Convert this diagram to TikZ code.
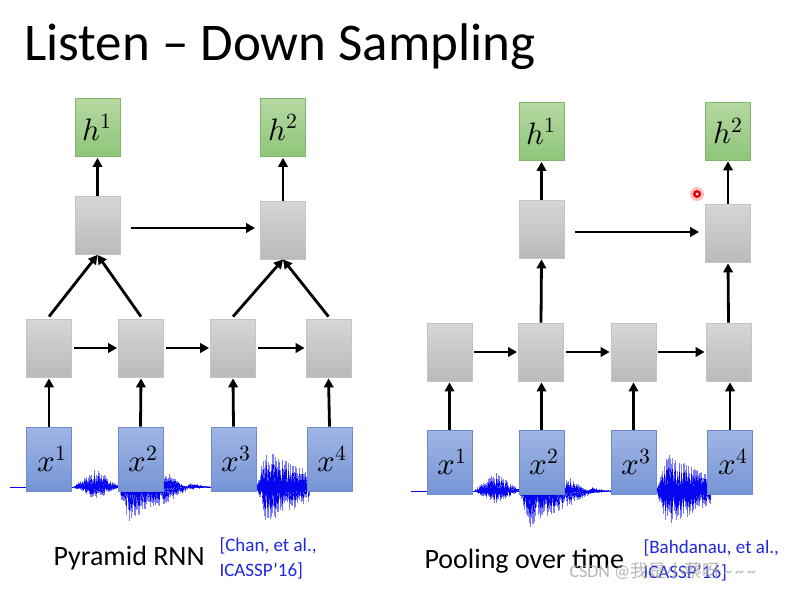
\documentclass[tikz,border=0pt]{standalone}
\usepackage{fontspec}
\usepackage{unicode-math}
\setmainfont{Carlito}
\setmathfont{Latin Modern Math}
\newfontfamily\cjkfont{Noto Sans CJK SC}
\usetikzlibrary{arrows.meta,calc}
\definecolor{xtop}{RGB}{160,182,228}
\definecolor{xbot}{RGB}{118,148,214}
\definecolor{xbor}{RGB}{110,140,205}
\definecolor{gtop}{RGB}{214,214,214}
\definecolor{gbot}{RGB}{186,186,186}
\definecolor{gbor}{RGB}{196,196,196}
\definecolor{htop}{RGB}{182,216,162}
\definecolor{hbot}{RGB}{142,198,122}
\definecolor{hbor}{RGB}{128,182,108}
\definecolor{refblue}{RGB}{30,40,225}
\definecolor{wlight}{RGB}{105,105,250}
\definecolor{wdark}{RGB}{5,5,240}
\tikzset{
  xbox/.style={draw=xbor, line width=0.8pt, top color=xtop, bottom color=xbot, minimum width=45pt, minimum height=64pt, inner sep=0pt, font=\fontsize{31}{33}\selectfont},
  gbox/.style={draw=gbor, line width=0.8pt, top color=gtop, bottom color=gbot, minimum width=45pt, minimum height=58pt, inner sep=0pt},
  hbox/.style={draw=hbor, line width=0.8pt, top color=htop, bottom color=hbot, minimum width=45pt, minimum height=58pt, inner sep=0pt, font=\fontsize{31}{33}\selectfont},
  arr/.style={line width=2.8pt, -{Triangle[length=9pt,width=9.5pt]}},
  wavelight/.style={wlight, line width=0.55pt, opacity=0.85},
  wavedark/.style={wdark, line width=0.6pt},
  captxt/.style={anchor=base west, font=\fontsize{28}{30}\selectfont},
  reftxt/.style={anchor=base west, text=refblue, font=\fontsize{19}{21}\selectfont},
}
\newcommand{\wb}[8]{%
  \pgfmathsetmacro\wsec{#1+0.5}%
  \foreach \i in {#1,\wsec,...,#4}{%
    \pgfmathsetmacro\env{ifthenelse(\i<#2,(\i-#1)/(#2-#1),(#3-\i)/(#3-#2))}%
    \pgfmathsetmacro\wu{#5*\env*(0.25+0.75*rnd)}%
    \pgfmathsetmacro\wd{#6*\env*(0.25+0.75*rnd)}%
    \draw[wavelight] (\i+#8,#7-\wu) -- (\i+#8,#7+\wd);
    \draw[wavedark] (\i+#8,#7-0.68*\wu) -- (\i+#8,#7+0.68*\wd);
  }}
\newcommand{\wavesig}[2]{%
  \draw[wdark, line width=1pt] (10+#1,#2) -- (310+#1,#2);
  \wb{72}{95}{120}{118}{19}{13}{#2}{#1}
  \wb{118}{128}{195}{192}{8}{37}{#2}{#1}
  \wb{158}{167}{186}{186}{15}{4}{#2}{#1}
  \wb{186}{190}{214}{212}{4}{3}{#2}{#1}
  \wb{212}{230}{256}{255}{2}{5}{#2}{#1}
  \wb{255}{266}{340}{309}{37}{36}{#2}{#1}
}
\begin{document}
\begin{tikzpicture}[x=1pt,y=-1pt]
\useasboundingbox (0,0) rectangle (810,590);
\fill[white] (0,0) rectangle (810,590);
\pgfmathsetseed{11}

\node[anchor=base west, font=\fontsize{53}{56}\selectfont, inner sep=0pt] (title) at (24,60) {Listen – Down Sampling};

% ---------------- Left: Pyramid RNN ----------------
\wavesig{0}{487}
\node[xbox] (x1) at (49,459) {\hspace*{6pt}$x^1$};
\node[xbox] (x2) at (140.5,459) {\hspace*{6pt}$x^2$};
\node[xbox] (x3) at (233.5,459) {\hspace*{6pt}$x^3$};
\node[xbox] (x4) at (329.5,459) {\hspace*{6pt}$x^4$};
\node[gbox] (g1) at (49,348) {};
\node[gbox] (g2) at (141,348) {};
\node[gbox] (g3) at (233,348) {};
\node[gbox] (g4) at (328.5,348) {};
\node[gbox] (u1) at (97.5,225.5) {};
\node[gbox] (u2) at (283,230) {};
\node[hbox] (h1) at (97.5,127.5) {$h^1$};
\node[hbox] (h2) at (283,127.5) {$h^2$};

\foreach \a/\b in {x1/g1,x2/g2,x3/g3,x4/g4}
  \draw[arr, shorten >=1pt] (\a.north) -- (\b.south);
\foreach \a/\b in {g1/g2,g2/g3,g3/g4}
  \draw[arr, shorten <=2pt, shorten >=1pt] (\a.east) -- (\b.west);
\draw[arr] ([yshift=2pt]g1.north) -- (u1.south);
\draw[arr] ([yshift=2pt]g2.north) -- (u1.south);
\draw[arr] ([yshift=2pt]g3.north) -- (u2.south);
\draw[arr] ([yshift=2pt]g4.north) -- (u2.south);
\draw[arr] ($(u1.east)+(11,2.5)$) -- ($(u2.west)+(-5,-2)$);
\draw[arr, shorten >=1pt] (u1.north) -- (h1.south);
\draw[arr, shorten >=1pt] (u2.north) -- (h2.south);

\node[captxt] (capL) at (50,565) {Pyramid RNN};
\node[reftxt] (refL1) at (216,551) {[Chan, et al.,};
\node[reftxt] (refL2) at (216,576) {ICASSP’16]};

% ---------------- Right: Pooling over time ----------------
\wavesig{401}{491}
\node[xbox] (X1) at (449.5,462) {\hspace*{6pt}$x^1$};
\node[xbox] (X2) at (541.5,462) {\hspace*{6pt}$x^2$};
\node[xbox] (X3) at (633.5,462) {\hspace*{6pt}$x^3$};
\node[xbox] (X4) at (730,462) {\hspace*{6pt}$x^4$};
\node[gbox] (G1) at (449.5,352) {};
\node[gbox] (G2) at (541,352) {};
\node[gbox] (G3) at (633.5,352) {};
\node[gbox] (G4) at (728.5,352) {};
\node[gbox] (U1) at (541.5,229) {};
\node[gbox] (U2) at (728,233) {};
\node[hbox] (H1) at (541.5,131.5) {$h^1$};
\node[hbox] (H2) at (728,131) {$h^2$};

\foreach \a/\b in {X1/G1,X2/G2,X3/G3,X4/G4}
  \draw[arr, shorten >=1pt] (\a.north) -- (\a.north |- \b.south);
\foreach \a/\b in {G1/G2,G2/G3,G3/G4}
  \draw[arr, shorten <=2pt, shorten >=1pt] (\a.east) -- (\b.west);
\draw[arr, shorten >=1pt] (G2.north) -- (U1.south);
\draw[arr, shorten >=1pt] (G4.north) -- (U2.south);
\draw[arr] ($(U1.east)+(11,3)$) -- ($(U2.west)+(-6,-1)$);
\draw[arr, shorten >=1pt] (U1.north) -- (H1.south);
\draw[arr, shorten >=1pt] (U2.north) -- (H2.south);

\node[captxt] (capR) at (421,568) {Pooling over time};
\node[reftxt] (refR1) at (640,553) {[Bahdanau, et al.,};
\node[reftxt] (refR2) at (640,578) {ICASSP’16]};

% laser pointer dot
\fill[red, opacity=0.25] (697,194) circle (7);
\fill[red!90!black] (697,194) circle (4);
\fill[white] (697,194) circle (1.5);

% watermark
\node[anchor=base west, text=gray!70, opacity=0.8, font=\fontsize{18}{20}\selectfont] (wm) at (566,577) {CSDN @{\cjkfont 我是小蔡呀}\,\textasciitilde\,\textasciitilde\,\textasciitilde};
\end{tikzpicture}
\end{document}
